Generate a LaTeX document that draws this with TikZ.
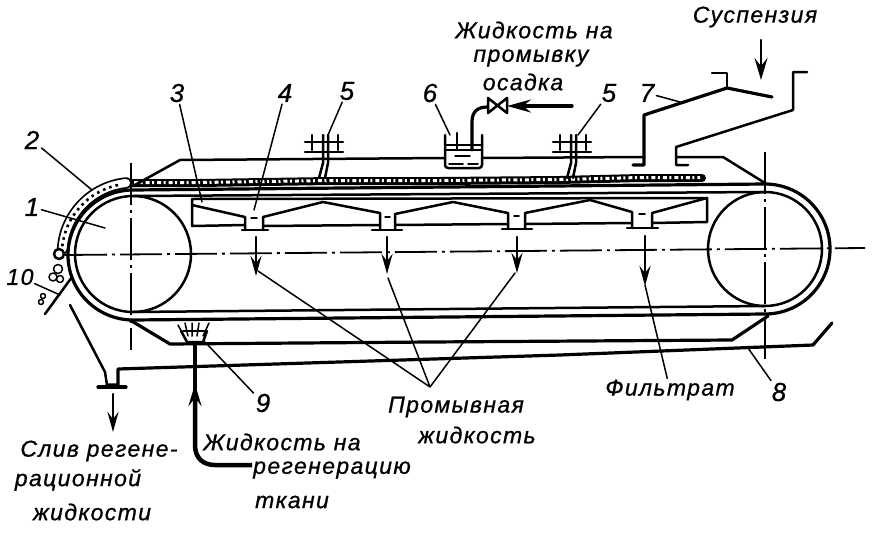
\documentclass[tikz,border=0pt]{standalone}
\usepackage{fontspec}
\setmainfont{Liberation Sans}
\newfontfamily\hand[UprightFont={* Italic},FakeBold=0.8,LetterSpace=6]{Liberation Sans}
\newfontfamily\handnum[UprightFont={* Italic},FakeBold=0.8]{Liberation Sans}
\usetikzlibrary{arrows.meta}
\tikzset{
 thinl/.style={line width=1.5pt,line cap=round,line join=round},
 mainl/.style={line width=2.5pt,line cap=round,line join=round},
 heavy/.style={line width=3.2pt,line cap=round,line join=round},
 centre/.style={line width=1.8pt,dash pattern=on 42pt off 5pt on 3pt off 5pt},
 lbl/.style={font=\fontsize{23}{23}\selectfont\hand,inner sep=1pt},
 num/.style={font=\fontsize{26}{26}\selectfont\handnum,inner sep=2pt},
 tipa/.style={-{Stealth[length=20pt,width=11pt,inset=7pt]}},
 tipb/.style={-{Stealth[length=22pt,width=13pt,inset=8pt]}},
}
\begin{document}
\begin{tikzpicture}[x=1pt,y=-1pt]
\useasboundingbox (0,0) rectangle (872,533);
% drums
\draw[mainl] (133,254) circle[radius=58pt];
\draw[mainl] (765,249) circle[radius=57pt];
% belt
\draw[heavy] (765,184) -- (133,190) arc[start angle=90,end angle=270,radius=65pt] -- (765,314) arc[start angle=-90,end angle=90,radius=65pt];
\draw[mainl] (133,196) -- (765,192);
\draw[mainl] (133,312) -- (765,306);
% centre lines
\draw[centre] (65,255) -- (865,248);
\draw[centre] (131,163) -- (131,350);
\draw[centre] (765,152) -- (765,360);
% cake
\draw[line width=8pt,line cap=round,line join=round] (130,183) -- (200,183) -- (330,181) -- (440,181) -- (560,180) -- (640,178) -- (702,178);
\draw[white,line width=3pt,dash pattern=on 4pt off 2.5pt on 2pt off 3pt] (134,182.5) -- (200,182.5) -- (330,180.5) -- (440,180.5) -- (560,179.5) -- (640,177.5) -- (700,177.5);
\draw[line width=11.5pt,line cap=round] (126,183) arc[start angle=96,end angle=176,radius=71pt];
\draw[white,line width=8pt,line cap=round] (126,183) arc[start angle=96,end angle=176,radius=71pt];
\draw[line width=2.6pt,dash pattern=on 2.6pt off 4pt] (118,185) arc[start angle=102,end angle=174,radius=71pt];
% lumps and knife
\draw[mainl,fill=white] (59,254) circle[radius=5pt];
\draw[thinl] (58,269) circle[radius=4.5pt];
\draw[thinl] (53,277) circle[radius=4pt];
\draw[thinl] (60,279) circle[radius=3.5pt];
\draw[thinl] (43,296) circle[radius=2.5pt];
\draw[thinl] (41,302) circle[radius=2.5pt];
\draw[mainl] (45,314) -- (72,277);
% upper casing
\draw[mainl] (133,186) -- (180,160) -- (445,158);
\draw[mainl] (482,158) -- (644,157);
\draw[mainl] (676,157) -- (723,157) -- (765,183);
% hopper
\draw[heavy] (633,165) -- (644,165) -- (644,115) -- (727,88) -- (772,97);
\draw[mainl] (727,88) -- (727,73) -- (712,73);
\draw[mainl] (688,165) -- (676,165) -- (676,147) -- (793,110) -- (793,72) -- (807,72);
% pipes 5
\foreach \s in {0,248}{
 \begin{scope}[xshift=\s pt]
 \draw[mainl] (323,135) -- (323,163) -- (319,178);
 \draw[mainl] (328,135) -- (328,163) -- (325,178);
 \draw[mainl] (305,142) -- (343,142);
 \draw[mainl] (305,152) -- (343,152);
 \draw[mainl] (312,135) -- (312,150);
 \draw[mainl] (338,135) -- (338,150);
 \end{scope}
}
% tank 6
\draw[mainl,rounded corners=3pt] (445,135) -- (445,168) -- (482,168) -- (482,135);
\draw[mainl] (445,145) -- (482,145);
\draw[thinl] (445,150) -- (482,150);
\draw[thinl] (455,156) -- (470,156);
\draw[thinl] (449,164) -- (463,164) (468,164) -- (478,164);
\draw[mainl] (457,133) -- (457,150);
\draw[heavy] (472,150) -- (472,122) .. controls (472,111) and (478,107) .. (488,107);
\draw[mainl,fill=white] (488,98) -- (507,113) -- (507,98) -- (488,113) -- cycle;
\draw[heavy,-{Stealth[length=24pt,width=13pt,inset=8pt]}] (572,106) -- (507,106);
% chamber
\draw[mainl] (192,199) -- (707,198);
\draw[mainl] (192,199) -- (192,226) -- (245,225);
\draw[mainl] (192,205) -- (245,217) -- (245,230);
\draw[mainl] (263,230) -- (263,217) -- (323,202) -- (380,213) -- (380,230);
\draw[mainl] (395,230) -- (395,214) -- (453,202) -- (508,213) -- (508,229);
\draw[mainl] (525,229) -- (525,213) -- (590,200) -- (632,212) -- (632,228);
\draw[mainl] (652,228) -- (652,213) -- (707,198) -- (707,222) -- (652,223);
\draw[mainl] (263,226) -- (380,225) (395,225) -- (508,224) (525,224) -- (632,223);
\draw[mainl] (242,230) -- (268,230) (372,230) -- (402,230) (502,229) -- (532,229) (627,228) -- (658,228);
\draw[thinl] (251,218) -- (257,218) (385,217) -- (390,217) (514,216) -- (519,216) (639,214) -- (645,214);
% filtrate arrows
\draw[mainl,tipa] (256,237) -- (256,276);
\draw[mainl,tipa] (387,237) -- (387,274);
\draw[mainl,tipa] (517,237) -- (517,273);
\draw[mainl,tipa] (645,236) -- (645,286);
% lower casing
\draw[heavy] (130,320) -- (170,344) -- (430,342) -- (732,340) -- (768,316);
\draw[heavy] (107,385) -- (118,385) -- (118,369) -- (560,355) -- (813,345) -- (832,323);
\draw[mainl] (70,305) -- (105,372) -- (107,385);
\draw[heavy] (98,387) -- (126,387);
\draw[mainl,tipa] (113,394) -- (113,432);
% spray 9
\draw[mainl] (181,331) -- (187,342) -- (203,342) -- (207,331);
\draw[thinl] (178,325) -- (184,336) (185,323) -- (188,336) (192,323) -- (192,336) (199,323) -- (197,336) (209,323) -- (203,336);
\draw[thinl] (183,331) -- (205,331);
\coordinate (tapout) at (195,344);
\coordinate (tapbend) at (252,465);
\draw[line width=4.5pt,tipb] (tapbend) -- (215,465) .. controls (203,465) and (195,458) .. (195,445) -- (195,384);
\draw[line width=4.5pt] (tapout) -- (195,400);
% labels
\node[num] (n1) at (32,207) {1};
\node[num] (n2) at (32,140) {2};
\node[num] (n3) at (177,93) {3};
\node[num] (n4) at (285,93) {4};
\node[num] (n5a) at (347,91) {5};
\node[num] (n6) at (430,93) {6};
\node[num] (n5b) at (609,93) {5};
\node[num] (n7) at (647,93) {7};
\node[num] (n8) at (779,392) {8};
\node[num] (n9) at (263,403) {9};
\node[lbl] (n10) at (20,277) {10};
\node[lbl] at (534,30) {Жидкость на};
\node[lbl] at (531,58) {промывку};
\node[lbl] at (523,82) {осадка};
\node[lbl] (susp) at (755,17) {Суспензия};
\node[lbl] at (99,451) {Слив регене-};
\node[lbl] at (78,480) {рационной};
\node[lbl] at (92,512) {жидкости};
\node[lbl] at (282,442) {Жидкость на};
\node[lbl] at (332,470) {регенерацию};
\node[lbl] at (292,502) {ткани};
\node[lbl] (wash) at (456,407) {Промывная};
\node[lbl] at (477,435) {жидкость};
\node[lbl] (filt) at (670,390) {Фильтрат};
% leaders
\coordinate (c1) at (105,228); \draw[thinl] (n1) -- (c1);
\coordinate (c2) at (92,190); \draw[thinl] (n2) -- (c2);
\coordinate (c3) at (202,202); \draw[thinl] (n3) -- (c3);
\coordinate (c4) at (254,210); \draw[thinl] (n4) -- (c4);
\coordinate (c5a) at (328,135); \draw[thinl] (n5a) -- (c5a);
\coordinate (c5b) at (578,135); \draw[thinl] (n5b) -- (c5b);
\coordinate (c6) at (450,135); \draw[thinl] (n6) -- (c6);
\coordinate (c7) at (680,102); \draw[thinl] (n7) -- (c7);
\coordinate (c8) at (748,348); \draw[thinl] (n8) -- (c8);
\coordinate (c9) at (205,342); \draw[thinl] (n9) -- (c9);
\coordinate (c10) at (60,295); \draw[thinl] (n10) -- (c10);
\coordinate (cf) at (645,285); \draw[thinl] (filt) -- (cf);
\coordinate (w) at (430,387);
\coordinate (w1) at (258,271); \coordinate (w2) at (388,278); \coordinate (w3) at (515,273);
\draw[thinl] (w1) -- (w) -- (w2) (w) -- (w3);
\draw[mainl,tipb] (761,40) -- (761,80);
\end{tikzpicture}
\end{document}
